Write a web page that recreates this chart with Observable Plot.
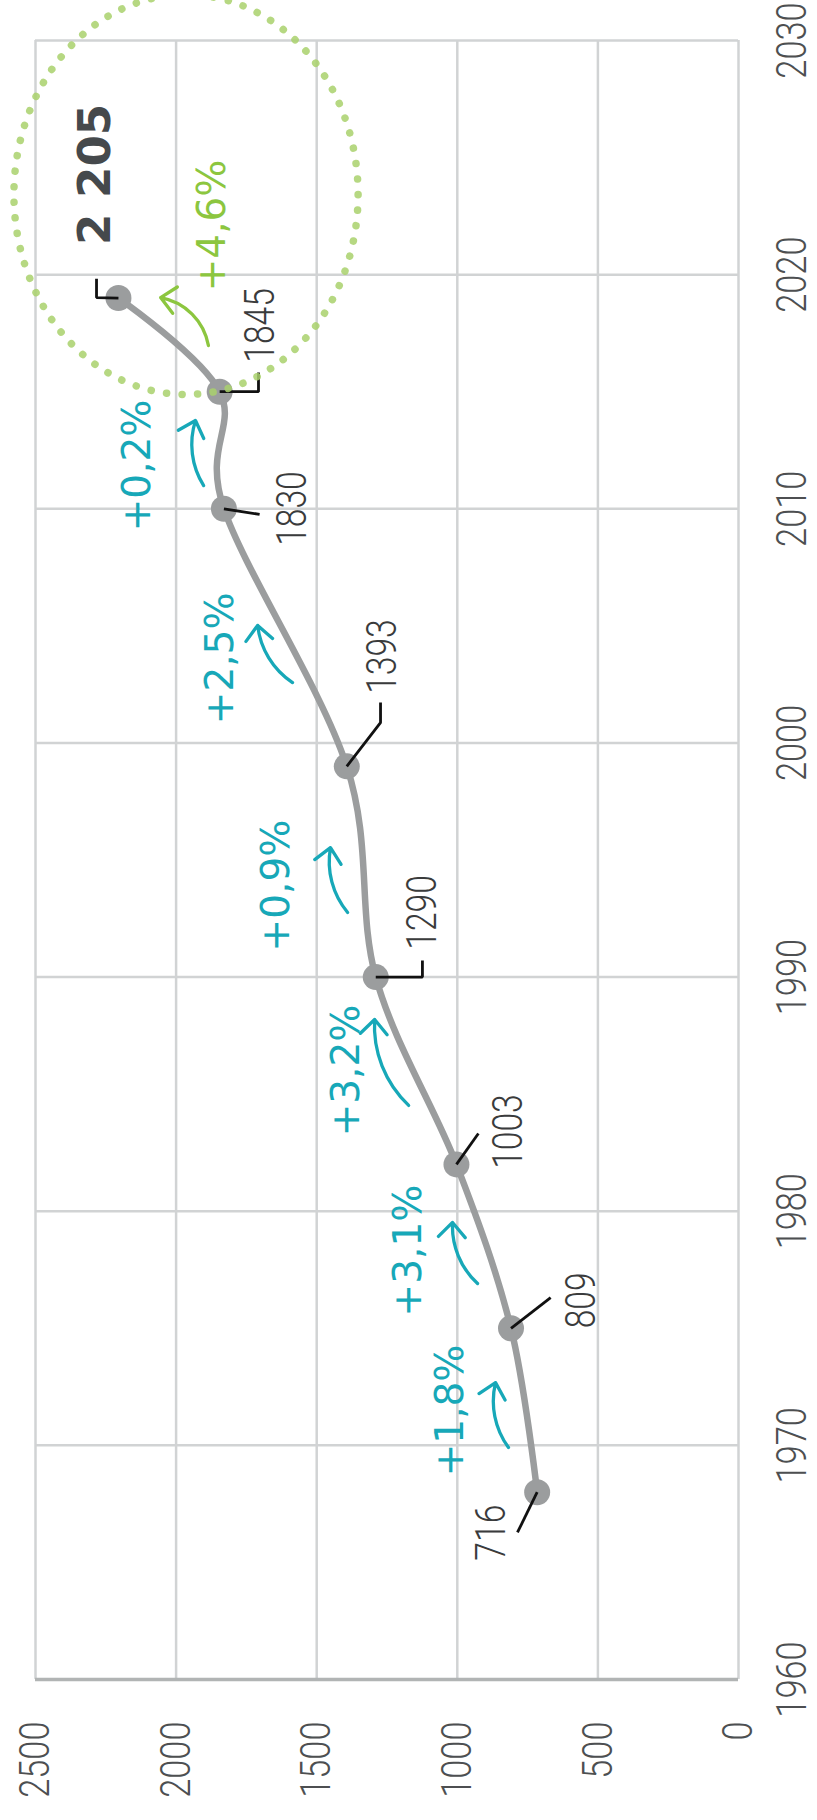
<!DOCTYPE html>
<html><head><meta charset="utf-8">
<script src="https://cdn.jsdelivr.net/npm/d3@7"></script>
<script src="https://cdn.jsdelivr.net/npm/@observablehq/plot@0.6"></script>
<style>
html,body{margin:0;padding:0;background:#fff;}
#chart svg{display:block;}
</style></head><body><div id="chart"></div>
<script>
// ---- data ----
const years = [1968, 1975, 1982, 1990, 1999, 2010, 2015, 2019];
const passengers = [716, 809, 1003, 1290, 1393, 1830, 1845, 2205];
const valueLabels = ["716", "809", "1003", "1290", "1393", "1830", "1845", "2 205"];
const valueTicks = [0, 500, 1000, 1500, 2000, 2500];
const yearTicks = [1960, 1970, 1980, 1990, 2000, 2010, 2020, 2030];

// value-label anchors (data units)
const labelValue = [878, 558, 818, 1124, 1266, 1586, 1700, 2286];
const labelYear = [1966.27, 1976.19, 1983.40, 1992.76, 2003.69, 2010.01, 2017.83, 2024.28];
// leader lines: optional elbow + end (data units)
const leaderMidValue = [null, null, null, 1124, 1273, null, 1707, 2283];
const leaderMidYear = [null, null, null, 1990, 2000.87, null, 2015, 2019.02];
const leaderEndValue = [786, 668, 925, 1124, 1273, 1703, 1707, 2283];
const leaderEndYear = [1966.28, 1976.31, 1983.32, 1990.71, 2001.73, 2009.76, 2015.82, 2019.82];

// growth rates between successive points
const growthLabels = ["+1,8%", "+3,1%", "+3,2%", "+0,9%", "+2,5%", "+0,2%", "+4,6%"];
const growthValue = [1024, 1173, 1394, 1643, 1842, 2137, 1870];
const growthYear = [1971.49, 1978.32, 1986.01, 1993.91, 2003.61, 2011.85, 2022.10];
const arrowFromValue = [818, 928, 1173, 1390, 1586, 1902, 1885];
const arrowFromYear = [1969.91, 1976.91, 1984.52, 1992.76, 2002.58, 2010.99, 2016.97];
const arrowToValue = [864, 1017, 1294, 1451, 1710, 1931, 2055];
const arrowToYear = [1972.68, 1979.52, 1988.19, 1995.53, 2005.02, 2013.77, 2019.02];

// highlight ring around the latest value
const ringCenter = [1963, 2023.4];
const ringRadius = [612, 8.54];

// ---- build ----
const pts = years.map((y, i) => ({year: y, value: passengers[i], label: valueLabels[i],
  lv: labelValue[i], ly: labelYear[i]}));
const leaderRows = years.flatMap((yr, i) => {
  const p = [{v: passengers[i], y: yr}];
  if (leaderMidValue[i] != null) p.push({v: leaderMidValue[i], y: leaderMidYear[i]});
  p.push({v: leaderEndValue[i], y: leaderEndYear[i]});
  return p.map(q => ({...q, k: i}));
});
const growth = growthLabels.map((t, i) => ({t, v: growthValue[i], y: growthYear[i],
  x1: arrowFromValue[i], y1: arrowFromYear[i], x2: arrowToValue[i], y2: arrowToYear[i], last: i === growthLabels.length - 1}));

const light = "Roboto, 'Liberation Sans', sans-serif";
const hand = "'DejaVu Sans', sans-serif";
const CYAN = "#17a8b8", GREEN = "#8cc63f";

function ring(index, scales) {
  const ns = "http://www.w3.org/2000/svg";
  const e = document.createElementNS(ns, "ellipse");
  const cx = scales.x(ringCenter[0]), cy = scales.y(ringCenter[1]);
  e.setAttribute("cx", cx);
  e.setAttribute("cy", cy);
  e.setAttribute("rx", Math.abs(scales.x(ringCenter[0] + ringRadius[0]) - cx));
  e.setAttribute("ry", Math.abs(scales.y(ringCenter[1] + ringRadius[1]) - cy));
  e.setAttribute("fill", "none");
  e.setAttribute("stroke", "#a9d16c");
  e.setAttribute("stroke-opacity", "0.85");
  e.setAttribute("stroke-width", "7.5");
  e.setAttribute("stroke-linecap", "round");
  e.setAttribute("stroke-dasharray", "0.1 15.5");
  return e;
}

const chart = Plot.plot({
  width: 817, height: 1820,
  marginLeft: 35, marginRight: 79, marginTop: 40, marginBottom: 141,
  style: {background: "#fff"},
  x: {domain: [0, 2500], reverse: true},
  y: {domain: [1960, 2030]},
  marks: [
    Plot.gridX(valueTicks, {stroke: "#d1d3d4", strokeOpacity: 1, strokeWidth: 2.5}),
    Plot.gridY(yearTicks.slice(1), {stroke: "#d1d3d4", strokeOpacity: 1, strokeWidth: 2.5}),
    Plot.ruleY([1960], {stroke: "#b1b4b4", strokeWidth: 3.5}),
    Plot.axisX(valueTicks, {anchor: "bottom", tickSize: 0, tickRotate: -90, tickPadding: 42,
      textAnchor: "end", lineAnchor: "middle", fontSize: 43, fontFamily: light, fontWeight: 300, color: "#4d4f51",
      tickFormat: d => String(d), label: null, className: "narrowtext"}),
    Plot.axisY(yearTicks, {anchor: "right", tickSize: 0, tickRotate: -90, tickPadding: 54,
      textAnchor: "middle", lineAnchor: "middle", fontSize: 43, fontFamily: light, fontWeight: 300, color: "#4d4f51",
      tickFormat: d => String(d), label: null, className: "narrowtext"}),
    Plot.line(pts, {x: "value", y: "year", curve: "cardinal", stroke: "#9b9d9e", strokeWidth: 6.5}),
    Plot.dot(pts, {x: "value", y: "year", r: 13, fill: "#9b9d9e", stroke: null}),
    Plot.line(leaderRows, {x: "v", y: "y", z: "k", stroke: "#111", strokeWidth: 2.8, strokeLinejoin: "miter", strokeLinecap: "butt"}),
    Plot.text(pts.slice(0, -1), {x: "lv", y: "ly", text: "label", rotate: -90, textAnchor: "middle", lineAnchor: "middle",
      fontSize: 42, fontFamily: light, fontWeight: 300, fill: "#3a3b3c", className: "narrowtext"}),
    Plot.text(pts.slice(-1), {x: "lv", y: "ly", text: "label", rotate: -90, textAnchor: "middle", lineAnchor: "middle",
      fontSize: 45, fontFamily: hand, fontWeight: "bold", fill: "#45494c"}),
    Plot.arrow(growth.filter(d => !d.last), {x1: "x1", y1: "y1", x2: "x2", y2: "y2", bend: 25,
      stroke: CYAN, strokeWidth: 3.3, headLength: 9, headAngle: 85}),
    Plot.arrow(growth.filter(d => d.last), {x1: "x1", y1: "y1", x2: "x2", y2: "y2", bend: -35,
      stroke: GREEN, strokeWidth: 3.3, headLength: 9, headAngle: 85}),
    Plot.text(growth, {x: "v", y: "y", text: "t", rotate: -90, textAnchor: "middle", lineAnchor: "middle",
      fontSize: 39, fontFamily: hand, fill: d => d.last ? GREEN : CYAN}),
    ring
  ]
});
// condense the light sans labels along their reading direction
chart.querySelectorAll(".narrowtext text").forEach(t => {
  const tr = t.getAttribute("transform") || "";
  t.setAttribute("transform", tr + " scale(0.8,1)");
});
document.getElementById("chart").append(chart);
</script>
</body></html>
